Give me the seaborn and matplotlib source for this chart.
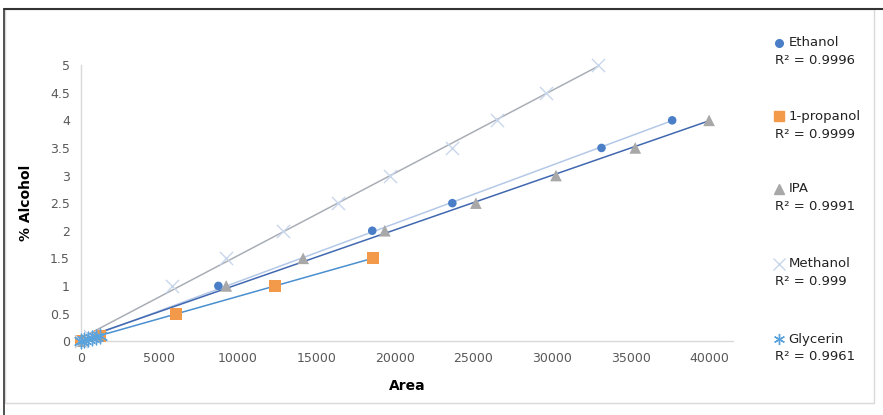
import numpy as np
import pandas as pd
import matplotlib.pyplot as plt
import seaborn as sns
from matplotlib.lines import Line2D
from matplotlib.patches import Rectangle

# values
ethanol_area = [0, 1000, 8750, 18550, 23650, 33150, 37650]
ethanol_pct = [0, 0.1, 1.0, 2.0, 2.5, 3.5, 4.0]

propanol_area = [0, 1200, 6050, 12350, 18600]
propanol_pct = [0, 0.1, 0.5, 1.0, 1.5]

ipa_area = [0, 1000, 9250, 14150, 19350, 25150, 30250, 35300, 40000]
ipa_pct = [0, 0.1, 1.0, 1.5, 2.0, 2.5, 3.0, 3.5, 4.0]

methanol_area = [0, 600, 5800, 9250, 12850, 16350, 19700, 23600, 26500, 29600, 32950]
methanol_pct = [0, 0.1, 1.0, 1.5, 2.0, 2.5, 3.0, 3.5, 4.0, 4.5, 5.0]

glycerin_area = [0, 200, 450, 700, 950, 1200]
glycerin_pct = [0, 0.02, 0.04, 0.06, 0.08, 0.1]

names = ["Ethanol", "1-propanol", "IPA", "Methanol", "Glycerin"]
r2_labels = ["0.9996", "0.9999", "0.9991", "0.999", "0.9961"]

series = {
    "Ethanol": (ethanol_area, ethanol_pct),
    "1-propanol": (propanol_area, propanol_pct),
    "IPA": (ipa_area, ipa_pct),
    "Methanol": (methanol_area, methanol_pct),
    "Glycerin": (glycerin_area, glycerin_pct),
}
df = pd.concat(
    [pd.DataFrame({"Area": a, "Pct": p, "Compound": n}) for n, (a, p) in series.items()],
    ignore_index=True,
)

marker_colors = {"Ethanol": "#4a7ec6", "1-propanol": "#f39a4a", "IPA": "#a8a8a8",
                 "Methanol": "#c9d7ec", "Glycerin": "#5ba3dc"}
markers = {"Ethanol": "o", "1-propanol": "s", "IPA": "^", "Methanol": "x", "Glycerin": (6, 2, 0)}
sizes = {"Ethanol": 38, "1-propanol": 75, "IPA": 70, "Methanol": 90, "Glycerin": 110}
trend_colors = {"Ethanol": "#b4c8e8", "1-propanol": "#4a8fd0", "IPA": "#4068b0",
                "Methanol": "#a9aeb6", "Glycerin": "#1e3a5f"}
legend_sizes = {"Ethanol": 5.5, "1-propanol": 6.5, "IPA": 7, "Methanol": 8, "Glycerin": 8}

sns.set_style("white")
fig = plt.figure(figsize=(8.83, 4.15), dpi=100)
ax = fig.add_axes([0.0917, 0.178, 0.738, 0.665])

# trendlines first (linear fit over data range)
for n in names:
    sub = df[df["Compound"] == n]
    k, b = np.polyfit(sub["Area"], sub["Pct"], 1)
    xs = np.array([sub["Area"].min(), sub["Area"].max()])
    ax.plot(xs, k * xs + b, color=trend_colors[n], lw=1.1, zorder=2)

for n in names:
    sub = df[df["Compound"] == n]
    thin = n in ("Methanol", "Glycerin")
    sns.scatterplot(data=sub, x="Area", y="Pct", ax=ax, color=marker_colors[n],
                    marker=markers[n], s=sizes[n], linewidth=1.0 if thin else 0,
                    edgecolor=marker_colors[n] if thin else "none",
                    clip_on=False, zorder=3, legend=False)

ax.set_xlim(0, 41500)
ax.set_ylim(0, 5)
ax.set_xticks(np.arange(0, 40001, 5000))
ax.set_yticks(np.arange(0, 5.01, 0.5))
ax.set_yticklabels(["0", "0.5", "1", "1.5", "2", "2.5", "3", "3.5", "4", "4.5", "5"])
ax.tick_params(axis="both", labelsize=9, colors="#595959", length=0, pad=8)
for s in ["top", "right"]:
    ax.spines[s].set_visible(False)
for s in ["left", "bottom"]:
    ax.spines[s].set_color("#d9d9d9")
    ax.spines[s].set_linewidth(1)
ax.set_xlabel("Area", fontsize=10, fontweight="bold", color="black", labelpad=10)
ax.set_ylabel("% Alcohol", fontsize=10, fontweight="bold", color="black", labelpad=12)

# legend on the right, built from text
name_y = [0.897, 0.720, 0.545, 0.365, 0.183]
for n, r2, yy in zip(names, r2_labels, name_y):
    fig.add_artist(Line2D([0.882], [yy], transform=fig.transFigure, marker=markers[n],
                          color=marker_colors[n], markersize=legend_sizes[n],
                          markeredgewidth=1.0, linestyle="none"))
    fig.text(0.893, yy, n, fontsize=9.5, va="center", ha="left", color="#222222")
    fig.text(0.878, yy - 0.043, "R² = " + r2, fontsize=9.5, va="center", ha="left", color="#222222")

# outer chart frame
fig.add_artist(Rectangle((0.006, 0.03), 0.984, 0.948, transform=fig.transFigure,
                         fill=False, edgecolor="#d9d9d9", lw=1))
fig.add_artist(Line2D([0.004, 1.0], [0.978, 0.978], transform=fig.transFigure, color="#333333", lw=1.5))
fig.add_artist(Line2D([0.005, 0.005], [0.0, 0.978], transform=fig.transFigure, color="#333333", lw=1.2))

fig.savefig("out.png", dpi=100)
